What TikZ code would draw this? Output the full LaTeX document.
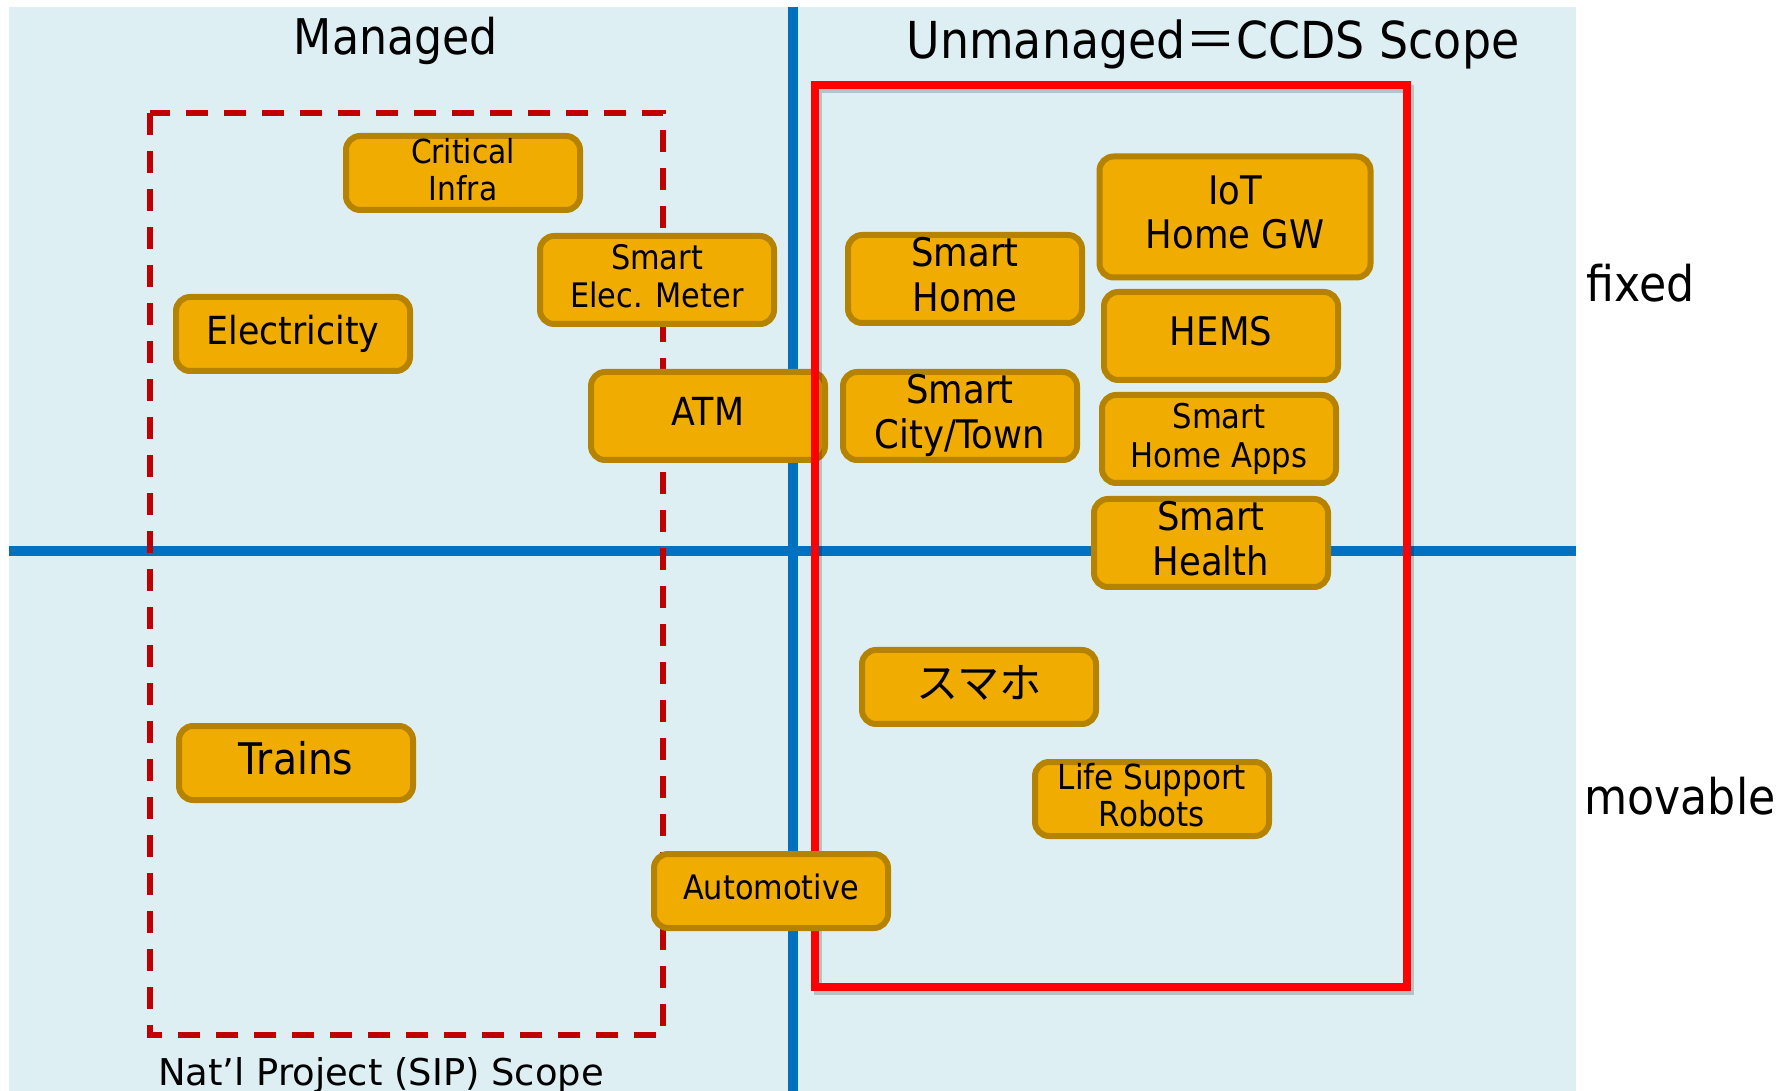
\documentclass[tikz,border=0pt]{standalone}
\usepackage{fontspec}
\usepackage{tikz}
\usepackage{xcolor}
\setmainfont{DejaVu Sans}[FakeStretch=0.9]
\newfontfamily\widefont{DejaVu Sans}
\newfontfamily\cjk{Noto Sans CJK JP}
\definecolor{bgblue}{RGB}{222,239,244}
\definecolor{axisblue}{RGB}{0,112,192}
\definecolor{tagfill}{RGB}{240,172,0}
\definecolor{tagedge}{RGB}{181,131,0}
\definecolor{sipred}{RGB}{192,0,0}
\tikzset{
  tag/.style={draw=tagedge, fill=tagfill, line width=0.6mm, rounded corners=4pt,
    minimum width=23.4mm, minimum height=7.4mm, inner sep=0pt, align=center,
    execute at end node={\rule[-0.24em]{0pt}{0pt}}},
  tall/.style={minimum height=8.8mm},
  sml/.style={font=\fontsize{9.6}{10.8}\selectfont},
  mid/.style={font=\fontsize{11.2}{12.7}\selectfont},
  big/.style={font=\fontsize{12.4}{14}\selectfont},
  heading/.style={font=\fontsize{14}{16}\selectfont, anchor=base},
}

\begin{document}
\begin{tikzpicture}[x=0.1mm, y=-0.1mm]
\useasboundingbox (0,0) rectangle (1791,1091);
\fill[bgblue] (9,7) rectangle (1576,1091);
\draw[axisblue, line width=1mm] (793,7) -- (793,1091);
\draw[axisblue, line width=1mm] (9,551) -- (1576,551);
%\draw[sipred, dashed] (150,113) rectangle (663,1035);
\draw[sipred, line width=0.6mm, dash pattern=on 2.2mm off 1.6mm] (150,113) rectangle (663,1035);

\node[heading] (managed) at (396,55) {Managed};
\node[heading, font=\fontsize{14.5}{16}\selectfont] (unmanaged) at (1213,59) {Unmanaged{\cjk ＝}CCDS Scope};
\node[heading] (fixed) at (1641,302) {fixed};
\node[heading] (movable) at (1680,814) {movable};
\node[anchor=base, font=\widefont\fontsize{10.5}{12}\selectfont] (sip) at (381,1085) {Nat’l Project (SIP) Scope};

\node[tag, sml, font=\fontsize{9.4}{10.5}\selectfont] (critinfra) at (463,173) {Critical\\Infra};
\node[tag, tall, sml] (meter) at (657,280) {Smart\\Elec. Meter};
\node[tag, font=\fontsize{11}{12.5}\selectfont] (elec) at (293,334) {Electricity};
\node[tag, tall, font=\fontsize{11}{12.5}\selectfont] (atm) at (708,416) {ATM};
\node[tag, tall, mid] (smarthome) at (965,279) {Smart\\Home};
\node[tag, mid, minimum width=27.1mm, minimum height=12.1mm] (iotgw) at (1235,217) {IoT\\Home GW};
\node[tag, tall, mid] (hems) at (1221,336) {HEMS};
\node[tag, tall, mid] (city) at (960,416) {Smart\\City/Town};
\node[tag, tall, sml, font=\fontsize{9.7}{11.1}\selectfont] (homeapps) at (1219,439) {Smart\\Home Apps};
\node[tag, tall, mid] (health) at (1211,543) {Smart\\Health};
\node[tag, font=\cjk\fontsize{12}{14}\selectfont] (sumaho) at (979,687) {スマホ};
\node[tag, font=\fontsize{9.8}{10.5}\selectfont] (robots) at (1152,799) {Life Support\\Robots};
\node[tag, big] (trains) at (296,763) {Trains};

% CCDS scope frame, over ATM but under Automotive
\draw[black, opacity=0.18, line width=0.8mm] (818,89) rectangle (1410,991);
\draw[red, line width=0.8mm] (815,85) rectangle (1407,987);
\node[tag, sml] (auto) at (771,891) {Automotive};
\end{tikzpicture}
\end{document}
